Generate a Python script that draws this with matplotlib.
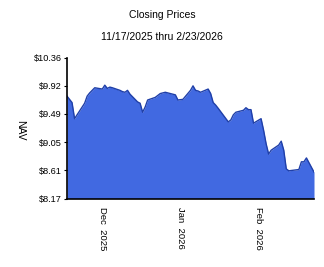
import matplotlib
matplotlib.use("Agg")
import matplotlib.pyplot as plt
import numpy as np

dates = ["2025-11-17","2025-11-18","2025-11-19","2025-11-20","2025-11-21",
         "2025-11-24","2025-11-25","2025-11-26","2025-11-28",
         "2025-12-01","2025-12-02","2025-12-03","2025-12-04","2025-12-05",
         "2025-12-08","2025-12-09","2025-12-10","2025-12-11","2025-12-12",
         "2025-12-15","2025-12-16","2025-12-17","2025-12-18","2025-12-19",
         "2025-12-22","2025-12-23","2025-12-24","2025-12-26",
         "2025-12-29","2025-12-30","2025-12-31","2026-01-02",
         "2026-01-05","2026-01-06","2026-01-07","2026-01-08","2026-01-09",
         "2026-01-12","2026-01-13","2026-01-14","2026-01-15","2026-01-16",
         "2026-01-20","2026-01-21","2026-01-22","2026-01-23",
         "2026-01-26","2026-01-27","2026-01-28","2026-01-29","2026-01-30",
         "2026-02-02","2026-02-03","2026-02-04","2026-02-05","2026-02-06",
         "2026-02-09","2026-02-10","2026-02-11","2026-02-12","2026-02-13",
         "2026-02-17","2026-02-18","2026-02-19","2026-02-20","2026-02-23"]
nav = [9.76, 9.71, 9.66, 9.41, 9.47,
       9.65, 9.76, 9.81, 9.89,
       9.87, 9.93, 9.88, 9.90, 9.89,
       9.85, 9.83, 9.82, 9.85, 9.79,
       9.67, 9.65, 9.51, 9.59, 9.70,
       9.74, 9.77, 9.80, 9.82,
       9.79, 9.78, 9.70, 9.71,
       9.85, 9.92, 9.85, 9.84, 9.82,
       9.87, 9.80, 9.66, 9.62, 9.57,
       9.36, 9.39, 9.47, 9.51,
       9.54, 9.58, 9.55, 9.55, 9.34,
       9.41, 9.23, 9.02, 8.86, 8.92,
       9.00, 9.06, 8.92, 8.63, 8.60,
       8.62, 8.74, 8.74, 8.80, 8.58]

y_ticks = [8.17, 8.61, 9.05, 9.49, 9.92, 10.36]
y_labels = ["$8.17", "$8.61", "$9.05", "$9.49", "$9.92", "$10.36"]
x_ticks = ["2025-12-01", "2026-01-01", "2026-02-01"]
x_labels = ["Dec  2025", "Jan  2026", "Feb  2026"]

plt.rcParams['font.family'] = ['Liberation Sans', 'DejaVu Sans']

fig = plt.figure(figsize=(3.24, 2.67), dpi=100)
ax = fig.add_axes([67/324, 1-198.5/267, (314-67)/324, (198.5-57.5)/267])

d = np.array(dates, dtype='datetime64[D]')
ymin, ymax = y_ticks[0], y_ticks[-1]
ax.fill_between(d, nav, ymin, color='#4169E1', linewidth=0)
ax.plot(d, nav, color='#1f3fa8', linewidth=1.0)

ax.set_xlim(d[0], d[-1])
ax.set_ylim(ymin, ymax)
ax.set_yticks(np.linspace(ymin, ymax, len(y_ticks)))
ax.set_yticklabels(y_labels, fontsize=6.6)
ax.set_xticks(np.array(x_ticks, dtype='datetime64[D]'))
ax.set_xticklabels(x_labels, rotation=270, fontsize=6.8)
ax.tick_params(axis='x', length=0, pad=6)
ax.tick_params(axis='y', length=2, width=0.8, pad=2)

for s in ['top', 'right']:
    ax.spines[s].set_visible(False)
for s in ['left', 'bottom']:
    ax.spines[s].set_linewidth(1.2)
    ax.spines[s].set_color('black')

fig.text(20/324, 1-130/267, "NAV", rotation=270, ha='center', va='center', fontsize=7.5)
fig.text(162/324, 1-15/267, "Closing Prices", ha='center', va='center', fontsize=7.5)
fig.text(162/324, 1-37/267, "11/17/2025 thru 2/23/2026", ha='center', va='center', fontsize=7.5)

fig.savefig("out.png", dpi=100)
